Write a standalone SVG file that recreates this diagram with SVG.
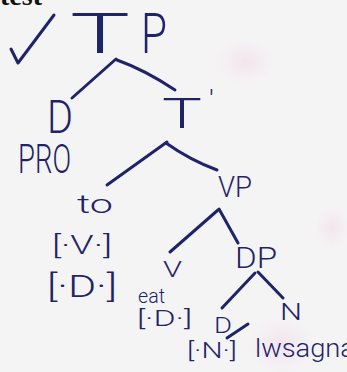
<svg xmlns="http://www.w3.org/2000/svg" width="347" height="372" viewBox="0 0 347 372">
  <defs>
    <radialGradient id="blush" cx="0.5" cy="0.5" r="0.5">
      <stop offset="0" stop-color="#ecc3dc" stop-opacity="0.3"/>
      <stop offset="1" stop-color="#ecc3dc" stop-opacity="0"/>
    </radialGradient>
    <style>
      .ink { fill: #1f2468; font-family: Roboto, "Liberation Sans", sans-serif; font-weight: 300; }
      .pen { fill: none; stroke: #1f2468; stroke-width: 3; stroke-linecap: round; stroke-linejoin: round; }
    </style>
  </defs>

  <!-- paper -->
  <rect width="347" height="372" fill="#f5f4f5"/>
  <ellipse cx="245" cy="62" rx="30" ry="24" fill="url(#blush)"/>
  <ellipse cx="282" cy="345" rx="34" ry="30" fill="url(#blush)"/>
  <ellipse cx="332" cy="228" rx="18" ry="22" fill="url(#blush)"/>

  <!-- printed heading, clipped at the top edge -->
  <text x="0" y="5" font-family="Liberation Serif, serif" font-weight="bold" font-size="28" fill="#111">test</text>

  <!-- tick mark -->
  <polyline class="pen" points="11,49 18,63 54,15"/>

  <!-- branches -->
  <g id="connectors">
    <path class="pen" d="M116,59 L72,98"/>
    <path class="pen" d="M117,60 Q145,70 175,90"/>
    <path class="pen" d="M167,142 L107,185"/>
    <path class="pen" d="M166,143 Q190,160 217,170"/>
    <path class="pen" d="M218,210 L170,252"/>
    <path class="pen" d="M219,209 L238,243"/>
    <path class="pen" d="M255,273 L222,308"/>
    <path class="pen" d="M258,272 L283,298"/>
    <path class="pen" d="M227,338 L248,324"/>
  </g>

  <g id="node-tp">
    <text class="ink" x="70" y="53" font-size="56" textLength="60" lengthAdjust="spacingAndGlyphs">T</text>
    <text class="ink" x="141" y="53" font-size="56" textLength="26" lengthAdjust="spacingAndGlyphs">P</text>
  </g>

  <g id="node-d">
    <text class="ink" x="47" y="133" font-size="46" textLength="26" lengthAdjust="spacingAndGlyphs">D</text>
    <text class="ink" x="18" y="173" font-size="40" textLength="53" lengthAdjust="spacingAndGlyphs">PRO</text>
  </g>

  <g id="node-tbar">
    <text class="ink" x="162" y="128" font-size="42" textLength="40" lengthAdjust="spacingAndGlyphs">T</text>
    <text class="ink" x="209" y="110" font-size="28">'</text>
  </g>

  <g id="node-to">
    <text class="ink" x="77" y="213" font-size="26" textLength="36" lengthAdjust="spacingAndGlyphs">to</text>
    <text class="ink" x="52" y="254" font-size="26" textLength="60" lengthAdjust="spacingAndGlyphs">[·V·]</text>
    <text class="ink" x="47" y="297" font-size="32" textLength="70" lengthAdjust="spacingAndGlyphs">[·D·]</text>
  </g>

  <g id="node-vp">
    <text class="ink" x="218" y="197" font-size="30" textLength="34" lengthAdjust="spacingAndGlyphs">VP</text>
  </g>

  <g id="node-v">
    <text class="ink" x="163" y="277" font-size="22" textLength="19" lengthAdjust="spacingAndGlyphs">V</text>
    <text class="ink" x="138" y="303" font-size="20" textLength="27" lengthAdjust="spacingAndGlyphs">eat</text>
    <text class="ink" x="137" y="326" font-size="22" textLength="55" lengthAdjust="spacingAndGlyphs">[·D·]</text>
  </g>

  <g id="node-dp">
    <text class="ink" x="235" y="268" font-size="30" textLength="42" lengthAdjust="spacingAndGlyphs">DP</text>
  </g>

  <g id="node-d2">
    <text class="ink" x="214" y="333" font-size="22" textLength="18" lengthAdjust="spacingAndGlyphs">D</text>
    <text class="ink" x="187" y="358" font-size="22" textLength="50" lengthAdjust="spacingAndGlyphs">[·N·]</text>
  </g>

  <g id="node-n">
    <text class="ink" x="280" y="320" font-size="24" textLength="22" lengthAdjust="spacingAndGlyphs">N</text>
    <text class="ink" x="255" y="357" font-size="26" textLength="100" lengthAdjust="spacingAndGlyphs">lwsagna</text>
  </g>
</svg>
